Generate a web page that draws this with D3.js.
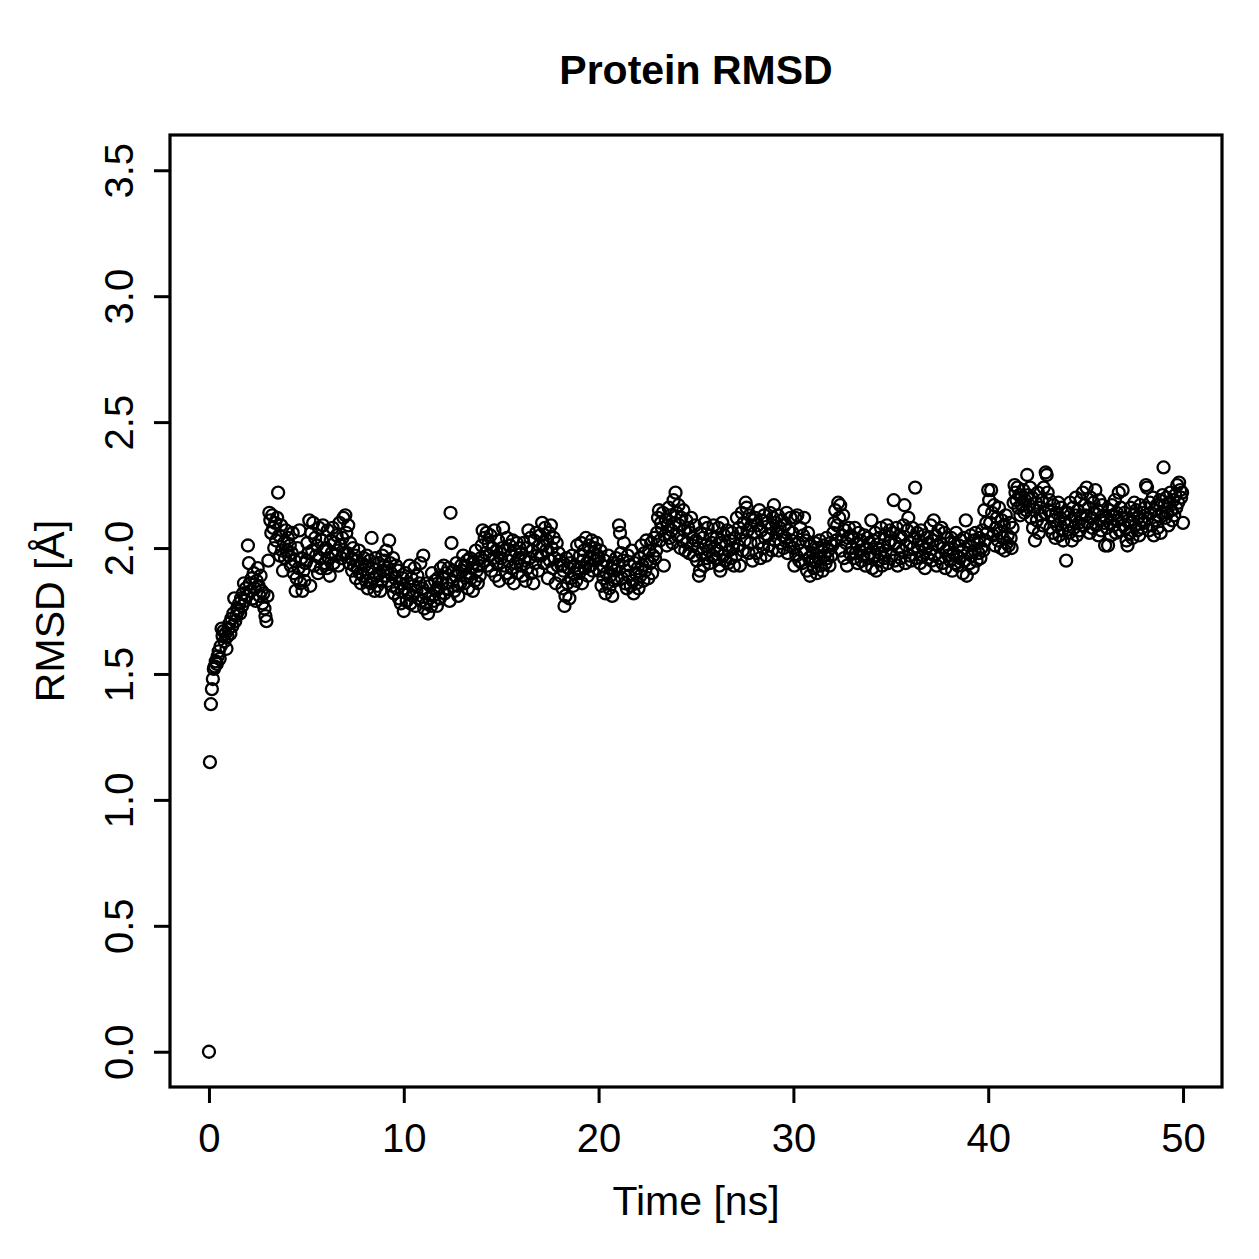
<!DOCTYPE html>
<html>
<head>
<meta charset="UTF-8">
<title>Protein RMSD</title>
<script src="https://cdn.jsdelivr.net/npm/d3@7"></script>
<style>
  body { margin: 0; background: #fff; }
  text { font-family: "Liberation Sans", Arial, Helvetica, sans-serif; fill: #000; }
</style>
</head>
<body>
<div id="chart"></div>
<script>
// RMSD values (Å), one frame every 0.05 ns
var timeStep = 0.05;
var rmsd0to10 = [
  0.00, 1.15, 1.38, 1.44, 1.48, 1.52, 1.53, 1.55, 1.54, 1.57, 1.59, 1.56, 1.61, 1.68, 1.65, 1.67, 1.63, 1.66, 1.60, 1.65,
  1.68, 1.70, 1.66, 1.72, 1.69, 1.74, 1.80, 1.71, 1.73, 1.76, 1.75, 1.78, 1.74, 1.80, 1.77, 1.82, 1.86, 1.79, 1.84, 1.81,
  2.01, 1.94, 1.86, 1.83, 1.88, 1.80, 1.90, 1.84, 1.79, 1.87, 1.92, 1.85, 1.81, 1.89, 1.83, 1.78, 1.82, 1.76, 1.73, 1.71,
  1.81, 1.95, 2.14, 2.11, 2.06, 2.13, 2.08, 2.00, 2.10, 2.03, 2.12, 2.22, 2.05, 1.97, 2.09, 1.99, 1.91, 2.02, 1.96, 2.07,
  1.99, 2.04, 1.97, 2.01, 1.93, 1.98, 2.06, 1.90, 1.95, 1.83, 1.88, 2.00, 1.92, 2.07, 1.86, 1.96, 1.83, 1.91, 1.87, 1.94,
  1.95, 2.02, 1.98, 2.11, 1.85, 2.06, 1.99, 2.10, 1.93, 2.04, 1.97, 2.01, 1.90, 2.08, 1.96, 1.92, 2.03, 2.09, 1.99, 1.94,
  2.00, 1.92, 2.07, 1.96, 1.89, 2.03, 1.98, 2.08, 1.94, 2.02, 1.97, 2.05, 1.99, 1.93, 2.10, 2.01, 1.96, 2.04, 2.12, 1.98,
  2.13, 2.06, 1.98, 2.09, 1.94, 2.02, 1.96, 1.91, 2.00, 1.93, 1.97, 1.88, 1.95, 1.92, 1.99, 1.90, 1.86, 1.94, 1.89, 1.96,
  1.93, 1.87, 1.97, 1.84, 1.90, 1.95, 1.86, 2.04, 1.92, 1.88, 1.83, 1.96, 1.89, 1.85, 1.94, 1.90, 1.83, 1.87, 1.97, 1.91,
  1.95, 1.89, 1.99, 1.92, 1.87, 2.03, 1.94, 1.90, 1.85, 1.96, 1.82, 1.88, 1.93, 1.84, 1.91, 1.80, 1.86, 1.78, 1.83, 1.88
];
var rmsd10to20 = [
  1.75, 1.84, 1.90, 1.79, 1.86, 1.82, 1.93, 1.78, 1.88, 1.81, 1.85, 1.92, 1.77, 1.83, 1.89, 1.80, 1.86, 1.94, 1.79, 1.84,
  1.97, 1.76, 1.82, 1.78, 1.86, 1.74, 1.80, 1.85, 1.77, 1.90, 1.81, 1.79, 1.87, 1.83, 1.77, 1.88, 1.84, 1.80, 1.92, 1.86,
  1.88, 1.93, 1.82, 1.90, 1.86, 1.84, 1.92, 1.79, 2.14, 2.02, 1.87, 1.91, 1.83, 1.89, 1.94, 1.85, 1.81, 1.90, 1.86, 1.93,
  1.91, 1.97, 1.86, 1.93, 1.89, 1.95, 1.84, 1.90, 1.96, 1.88, 1.92, 1.83, 1.94, 1.87, 1.99, 1.91, 1.86, 1.93, 1.89, 1.96,
  2.01, 2.07, 1.95, 2.04, 1.98, 2.06, 1.93, 2.02, 1.97, 2.05, 1.91, 2.00, 1.96, 2.07, 1.89, 1.99, 1.94, 2.03, 1.87, 1.98,
  1.96, 2.00, 2.08, 1.93, 1.99, 1.90, 2.04, 1.95, 1.88, 2.01, 1.97, 1.92, 2.03, 1.86, 1.99, 1.94, 2.02, 1.90, 1.96, 2.00,
  1.93, 1.98, 1.89, 2.02, 1.95, 1.87, 2.00, 1.92, 2.07, 1.96, 2.04, 1.90, 1.99, 1.86, 2.03, 1.94, 2.06, 1.97, 1.91, 2.01,
  2.05, 1.97, 2.10, 2.01, 1.94, 2.08, 1.99, 2.03, 1.88, 2.06, 1.95, 2.09, 2.00, 1.92, 2.04, 1.96, 1.86, 2.02, 1.93, 1.98,
  1.95, 1.89, 1.93, 1.84, 1.91, 1.77, 1.81, 1.96, 1.86, 1.92, 1.80, 1.94, 1.88, 1.97, 1.85, 1.90, 1.93, 1.87, 2.01, 1.92,
  1.90, 1.97, 2.02, 1.86, 1.95, 1.99, 1.92, 2.04, 1.94, 1.89, 2.01, 1.96, 1.93, 2.03, 1.91, 1.98, 2.00, 1.95, 2.02, 1.97
];
var rmsd20to30 = [
  1.96, 1.91, 1.99, 1.85, 1.93, 1.88, 1.95, 1.82, 1.90, 1.86, 1.97, 1.84, 1.89, 1.92, 1.81, 1.94, 1.87, 1.91, 1.96, 1.88,
  1.93, 2.09, 2.06, 1.98, 1.88, 1.95, 2.02, 1.86, 1.91, 1.84, 1.97, 1.89, 1.93, 1.85, 1.99, 1.87, 1.82, 1.94, 1.90, 1.86,
  1.92, 1.84, 1.96, 1.89, 2.01, 1.93, 1.87, 1.98, 1.91, 2.03, 1.95, 1.88, 1.99, 1.94, 2.02, 1.90, 1.97, 2.04, 1.96, 1.99,
  2.06, 2.12, 2.15, 2.03, 2.10, 2.08, 2.14, 1.93, 2.05, 2.11, 2.01, 2.09, 2.16, 2.04, 2.13, 2.07, 2.02, 2.19, 2.10, 2.22,
  2.14, 2.05, 2.17, 2.09, 2.00, 2.12, 2.03, 2.15, 2.07, 1.99, 2.11, 2.02, 2.08, 1.98, 2.06, 2.12, 2.01, 2.04, 1.97, 2.09,
  2.03, 1.95, 2.00, 1.89, 1.91, 2.06, 1.98, 2.04, 1.93, 2.10, 2.01, 1.96, 2.08, 1.99, 1.94, 2.05, 2.02, 1.97, 2.09, 2.00,
  1.96, 2.04, 1.99, 2.08, 1.93, 1.91, 2.02, 2.10, 1.97, 2.05, 1.95, 2.01, 2.07, 1.94, 1.99, 2.03, 1.96, 2.06, 2.00, 1.93,
  2.04, 1.97, 2.12, 2.01, 2.08, 1.93, 2.06, 2.14, 1.99, 2.10, 2.03, 2.18, 2.16, 2.07, 1.98, 2.13, 2.02, 2.09, 1.95, 2.11,
  2.06, 2.12, 1.98, 2.09, 2.02, 2.15, 1.96, 2.07, 2.11, 2.00, 2.13, 2.04, 1.97, 2.10, 2.05, 2.01, 2.14, 2.08, 1.99, 2.12,
  2.17, 2.03, 2.10, 2.06, 2.13, 1.99, 2.08, 2.02, 2.11, 2.05, 2.00, 2.09, 2.04, 2.14, 1.98, 2.07, 2.01, 2.12, 2.03, 2.06
];
var rmsd30to40 = [
  2.00, 1.93, 2.12, 1.97, 2.13, 2.02, 1.95, 2.08, 1.99, 1.94, 2.05, 2.12, 1.98, 2.03, 1.91, 2.06, 1.96, 1.89, 2.01, 1.95,
  1.98, 1.92, 2.02, 1.95, 1.90, 2.00, 1.96, 2.03, 1.93, 1.99, 1.91, 2.01, 1.97, 1.94, 2.04, 1.96, 1.99, 1.93, 2.02, 1.97,
  2.01, 2.06, 2.10, 2.15, 2.03, 2.09, 2.18, 2.12, 2.17, 1.99, 2.05, 2.13, 1.96, 2.07, 2.02, 1.93, 2.04, 2.08, 1.98, 2.05,
  2.00, 2.04, 1.96, 2.08, 1.98, 2.02, 1.94, 2.06, 1.99, 2.03, 1.95, 2.01, 1.97, 2.05, 1.93, 2.00, 2.04, 1.96, 2.02, 1.98,
  2.11, 1.92, 2.03, 1.97, 2.06, 1.91, 2.00, 1.95, 2.04, 1.98, 2.08, 1.93, 2.01, 1.96, 2.05, 1.99, 2.09, 1.94, 2.02, 2.07,
  2.03, 1.97, 2.06, 2.19, 1.95, 2.02, 2.08, 1.93, 2.00, 2.05, 1.96, 2.04, 1.99, 2.09, 2.17, 1.94, 2.01, 2.07, 2.12, 1.97,
  2.02, 1.95, 2.08, 2.00, 2.04, 2.24, 1.96, 2.06, 1.99, 2.03, 1.94, 2.07, 2.01, 1.97, 2.05, 1.92, 2.00, 2.04, 1.96, 2.02,
  1.98, 2.09, 1.95, 2.03, 2.11, 1.97, 2.05, 1.93, 2.01, 2.07, 1.96, 2.02, 2.08, 1.94, 2.00, 2.06, 1.92, 1.99, 2.04, 1.97,
  2.00, 1.95, 2.04, 1.91, 1.98, 2.02, 1.94, 2.06, 1.97, 1.93, 2.01, 1.96, 2.03, 1.99, 1.90, 2.04, 1.95, 2.11, 1.89, 1.98,
  2.01, 1.94, 2.05, 1.97, 1.92, 2.03, 1.99, 2.06, 1.95, 2.02, 1.98, 2.04, 1.96, 2.00, 2.07, 1.99, 2.15, 2.03, 2.10, 2.06
];
var rmsd40to50 = [
  2.23, 2.19, 2.10, 2.23, 2.14, 2.05, 2.17, 2.01, 2.08, 2.12, 2.03, 2.16, 2.06, 2.00, 2.11, 2.04, 2.09, 1.99, 2.13, 2.02,
  2.05, 2.01, 2.10, 2.04, 2.00, 2.08, 2.18, 2.25, 2.22, 2.19, 2.24, 2.16, 2.21, 2.13, 2.20, 2.17, 2.23, 2.14, 2.19, 2.15,
  2.29, 2.21, 2.17, 2.24, 2.12, 2.20, 2.08, 2.15, 2.03, 2.18, 2.11, 2.22, 2.06, 2.16, 2.13, 2.19, 2.09, 2.24, 2.14, 2.30,
  2.29, 2.22, 2.15, 2.19, 2.08, 2.13, 2.06, 2.17, 2.11, 2.04, 2.14, 2.09, 2.18, 2.05, 2.12, 2.16, 2.07, 2.03, 2.10, 2.14,
  1.95, 2.09, 2.14, 2.06, 2.18, 2.11, 2.03, 2.16, 2.08, 2.13, 2.20, 2.05, 2.15, 2.10, 2.07, 2.19, 2.12, 2.22, 2.09, 2.17,
  2.13, 2.24, 2.10, 2.16, 2.06, 2.20, 2.12, 2.08, 2.18, 2.14, 2.23, 2.09, 2.15, 2.05, 2.19, 2.11, 2.07, 2.17, 2.13, 2.10,
  2.01, 2.12, 2.08, 2.01, 2.15, 2.10, 2.05, 2.17, 2.13, 2.09, 2.19, 2.06, 2.14, 2.11, 2.22, 2.07, 2.16, 2.12, 2.23, 2.09,
  2.14, 2.08, 2.03, 2.01, 2.11, 2.06, 2.16, 2.10, 2.04, 2.13, 2.18, 2.09, 2.15, 2.07, 2.12, 2.05, 2.17, 2.11, 2.08, 2.14,
  2.10, 2.16, 2.25, 2.24, 2.12, 2.07, 2.18, 2.14, 2.09, 2.20, 2.05, 2.15, 2.11, 2.17, 2.08, 2.13, 2.19, 2.06, 2.14, 2.21,
  2.32, 2.17, 2.12, 2.20, 2.14, 2.09, 2.18, 2.22, 2.15, 2.11, 2.19, 2.13, 2.21, 2.16, 2.25, 2.18, 2.26, 2.23, 2.20, 2.22,
  2.10
];
var xTicks = [0, 10, 20, 30, 40, 50];
var yTicks = [0.0, 0.5, 1.0, 1.5, 2.0, 2.5, 3.0, 3.5];

var rmsd = [].concat(rmsd0to10, rmsd10to20, rmsd20to30, rmsd30to40, rmsd40to50);
var data = rmsd.map(function(v, i) { return {time: i * timeStep, rmsd: v}; });

var W = 1259, H = 1259;
var box = {left: 170, right: 1222, top: 135, bottom: 1087};

var svg = d3.select("#chart").append("svg")
    .attr("width", W)
    .attr("height", H);

// R style 4% padding on both axes
var x = d3.scaleLinear().domain([-2, 52]).range([box.left, box.right]);
var y = d3.scaleLinear().domain([-0.14, 3.64]).range([box.bottom, box.top]);

// points
svg.append("g")
    .selectAll("circle")
    .data(data)
    .enter()
    .append("circle")
    .attr("cx", function(d) { return x(d.time); })
    .attr("cy", function(d) { return y(d.rmsd); })
    .attr("r", 6)
    .style("fill", "none")
    .style("stroke", "#000")
    .style("stroke-width", 2.3);

// x axis
var xAxis = svg.append("g")
    .attr("transform", "translate(0," + box.bottom + ")")
    .call(d3.axisBottom(x).tickValues(xTicks).tickSize(16).tickSizeOuter(0).tickFormat(d3.format("d")));
xAxis.select(".domain").remove();
xAxis.selectAll("line").attr("stroke", "#000").attr("stroke-width", 3);
xAxis.selectAll("text")
    .attr("y", 65)
    .attr("dy", null)
    .style("font-size", "40px");

// y axis
var yAxis = svg.append("g")
    .attr("transform", "translate(" + box.left + ",0)")
    .call(d3.axisLeft(y).tickValues(yTicks).tickSize(16).tickSizeOuter(0).tickFormat(d3.format(".1f")));
yAxis.select(".domain").remove();
yAxis.selectAll("line").attr("stroke", "#000").attr("stroke-width", 3);
yAxis.selectAll("text")
    .attr("x", null)
    .attr("dy", null)
    .attr("text-anchor", "middle")
    .attr("transform", "translate(-37,0) rotate(-90)")
    .style("font-size", "40px");

// frame
svg.append("rect")
    .attr("x", box.left)
    .attr("y", box.top)
    .attr("width", box.right - box.left)
    .attr("height", box.bottom - box.top)
    .style("fill", "none")
    .style("stroke", "#000")
    .style("stroke-width", 3.2);

// labels
svg.append("text")
    .attr("x", (box.left + box.right) / 2)
    .attr("y", 84)
    .attr("text-anchor", "middle")
    .style("font-size", "41px")
    .style("font-weight", "bold")
    .text("Protein RMSD");

svg.append("text")
    .attr("x", (box.left + box.right) / 2)
    .attr("y", 1215)
    .attr("text-anchor", "middle")
    .style("font-size", "41px")
    .text("Time [ns]");

svg.append("text")
    .attr("transform", "translate(64," + ((box.top + box.bottom) / 2) + ") rotate(-90)")
    .attr("text-anchor", "middle")
    .style("font-size", "41px")
    .text("RMSD [Å]");
</script>
</body>
</html>
